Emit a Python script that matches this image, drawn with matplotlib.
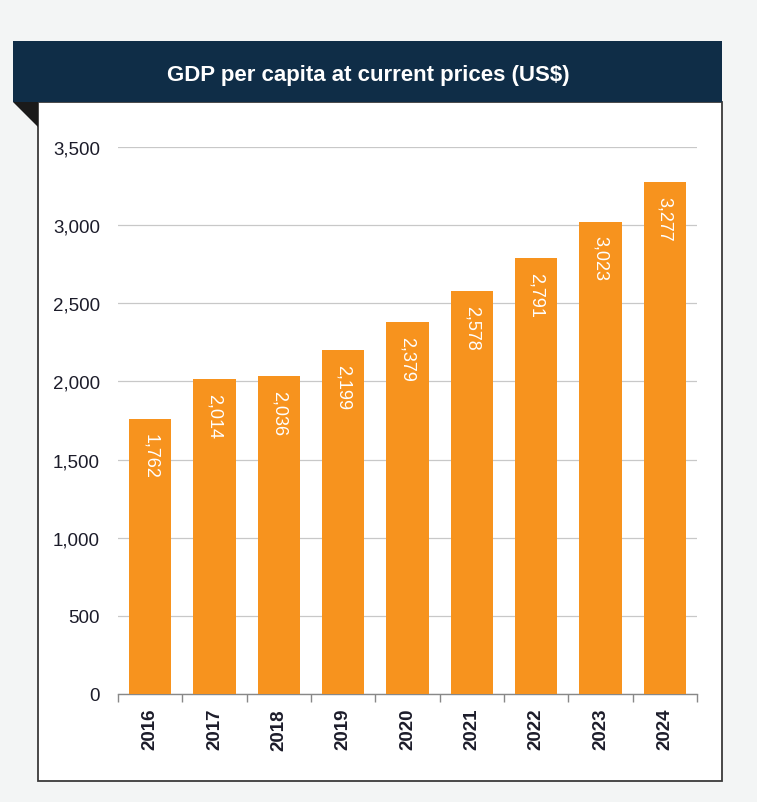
import matplotlib
matplotlib.use("Agg")
import matplotlib.pyplot as plt
from matplotlib.patches import Rectangle, Polygon
import numpy as np

years = ["2016", "2017", "2018", "2019", "2020", "2021", "2022", "2023", "2024"]
values = [1762, 2014, 2036, 2199, 2379, 2578, 2791, 3023, 3277]
yticks = [0, 500, 1000, 1500, 2000, 2500, 3000, 3500]
title = "GDP per capita at current prices (US$)"

plt.rcParams['font.family'] = ['Liberation Sans Narrow', 'Liberation Sans', 'DejaVu Sans']

W, H = 757, 803
fig = plt.figure(figsize=(W / 100, H / 100), dpi=100, facecolor='#f3f5f5')

def fx(x):
    return x / W

def fy(y):
    return 1 - y / H

# white box with border
fig.patches.append(Rectangle((fx(38), fy(782)), fx(722) - fx(38), fy(103) - fy(782),
                             transform=fig.transFigure, facecolor='white',
                             edgecolor='#3a3a3a', linewidth=1.3, zorder=0))
# header
navy = '#0f2d47'
fig.patches.append(Rectangle((fx(13), fy(103)), fx(722) - fx(13), fy(42) - fy(103),
                             transform=fig.transFigure, facecolor=navy,
                             edgecolor='none', zorder=1))
fig.patches.append(Polygon([(fx(13), fy(103)), (fx(38), fy(103)), (fx(38), fy(128))],
                           closed=True, transform=fig.transFigure, facecolor='#1a1a1a',
                           edgecolor='none', zorder=1))
fig.text(fx(368), fy(75), title, color='white', fontsize=16, ha='center', va='center',
         fontweight='bold', zorder=2)

ax = fig.add_axes([fx(118), fy(695), fx(697) - fx(118), fy(148) - fy(695)])
ax.set_zorder(5)
ax.set_facecolor('none')
x = np.arange(len(years))
orange = '#f7931e'
ax.bar(x, values, width=0.66, color=orange, zorder=3)
ax.set_xlim(-0.5, len(years) - 0.5)
ax.set_ylim(0, 3500)
ax.set_yticks(yticks)
ax.set_yticklabels([f"{v:,}" for v in yticks], fontsize=13.5, color='#1c1c2a')
ax.yaxis.grid(True, color='#c8c8c8', linewidth=0.9, zorder=0)
ax.tick_params(axis='y', length=0, pad=13)

ax.set_xticks(x)
ax.set_xticklabels(years, rotation=90, fontsize=13.5, color='#1c1c2a', fontweight='bold')
ax.set_xticks(np.arange(len(years) + 1) - 0.5, minor=True)
ax.tick_params(axis='x', which='major', length=0, pad=10)
ax.tick_params(axis='x', which='minor', length=6, color='#888888', width=1)

for s in ['top', 'right', 'left']:
    ax.spines[s].set_visible(False)
ax.spines['bottom'].set_color('#888888')
ax.spines['bottom'].set_linewidth(1)

for xi, v in zip(x, values):
    ax.annotate(f"{v:,}", (xi, v), xytext=(0, -10), textcoords='offset points',
                rotation=270, ha='center', va='top', color='white', fontsize=13, zorder=4)

fig.savefig('out.png', dpi=100, facecolor=fig.get_facecolor())
